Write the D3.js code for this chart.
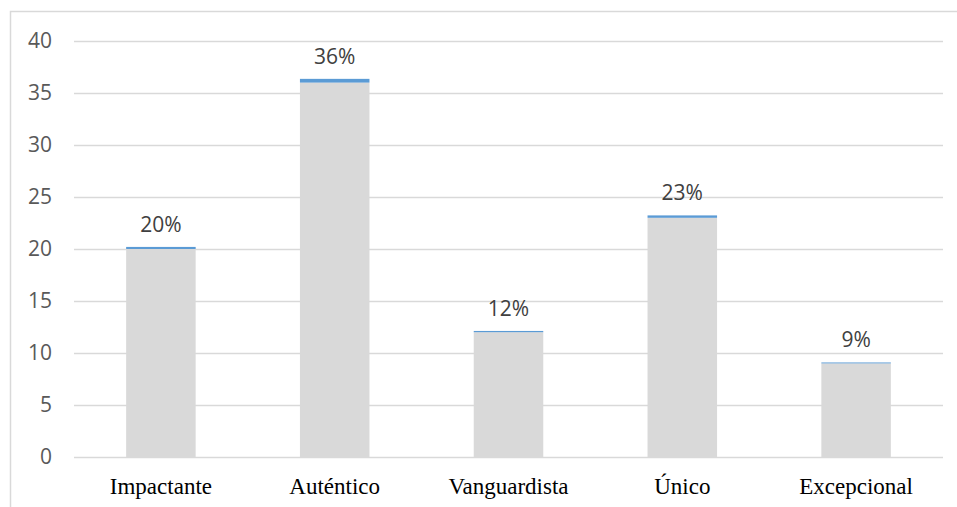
<!DOCTYPE html>
<html>
<head>
<meta charset="utf-8">
<script src="https://cdn.jsdelivr.net/npm/d3@7"></script>
<style>
  body { margin: 0; background: #fff; }
  svg { display: block; }
</style>
</head>
<body>
<div id="chart"></div>
<script>
var categories = ["Impactante", "Auténtico", "Vanguardista", "Único", "Excepcional"];
var counts = [20, 36, 12, 23, 9];
var shares = [0.20, 0.36, 0.12, 0.23, 0.09];
var yTicks = [0, 5, 10, 15, 20, 25, 30, 35, 40];

var W = 957, H = 507;
var margin = {left: 74, right: 14, top: 41, bottom: 50};

var svg = d3.select("#chart").append("svg")
  .attr("width", W)
  .attr("height", H);

// outer frame (only top and left edges are in view)
svg.append("path")
  .attr("d", "M10.5," + H + "V11.5H" + W)
  .attr("fill", "none")
  .attr("stroke", "#d9d9d9")
  .attr("stroke-width", 1.5);

var x = d3.scaleBand()
  .domain(categories)
  .range([margin.left, W - margin.right])
  .paddingInner(0.6)
  .paddingOuter(0.3);

var y = d3.scaleLinear()
  .domain([0, 40])
  .range([H - margin.bottom, margin.top]);

// gridlines
svg.append("g")
  .selectAll("line")
  .data(yTicks)
  .join("line")
  .attr("x1", margin.left)
  .attr("x2", W - margin.right)
  .attr("y1", function(d) { return Math.round(y(d)) + 0.5; })
  .attr("y2", function(d) { return Math.round(y(d)) + 0.5; })
  .attr("stroke", "#d9d9d9")
  .attr("stroke-width", 1.3);

// y tick labels
svg.append("g")
  .selectAll("text")
  .data(yTicks)
  .join("text")
  .attr("x", 52)
  .attr("y", function(d) { return y(d); })
  .attr("dy", "0.35em")
  .attr("text-anchor", "end")
  .attr("font-family", "'Open Sans', 'Noto Sans', sans-serif")
  .attr("font-size", 21)
  .attr("fill", "#595959")
  .text(function(d) { return d; });

// gray bars (counts)
svg.append("g")
  .selectAll("rect")
  .data(categories)
  .join("rect")
  .attr("x", function(d) { return x(d); })
  .attr("width", x.bandwidth())
  .attr("y", function(d, i) { return y(counts[i]); })
  .attr("height", function(d, i) { return y(0) - y(counts[i]); })
  .attr("fill", "#d9d9d9");

// blue caps (shares stacked on top)
svg.append("g")
  .selectAll("rect")
  .data(categories)
  .join("rect")
  .attr("x", function(d) { return x(d); })
  .attr("width", x.bandwidth())
  .attr("y", function(d, i) { return y(counts[i] + shares[i]); })
  .attr("height", function(d, i) { return y(counts[i]) - y(counts[i] + shares[i]); })
  .attr("fill", "#5b9bd5");

// data labels
var pct = d3.format(".0%");
svg.append("g")
  .selectAll("text")
  .data(categories)
  .join("text")
  .attr("x", function(d) { return x(d) + x.bandwidth() / 2; })
  .attr("y", function(d, i) { return y(counts[i] + shares[i]) - 15; })
  .attr("text-anchor", "middle")
  .attr("font-family", "'Open Sans', 'Noto Sans', sans-serif")
  .attr("font-size", 21)
  .attr("fill", "#404040")
  .text(function(d, i) { return pct(shares[i]); });

// category labels
svg.append("g")
  .selectAll("text")
  .data(categories)
  .join("text")
  .attr("x", function(d) { return x(d) + x.bandwidth() / 2; })
  .attr("y", 494)
  .attr("text-anchor", "middle")
  .attr("font-family", "'Liberation Serif', 'Times New Roman', serif")
  .attr("font-size", 23)
  .attr("fill", "#000")
  .text(function(d) { return d; });
</script>
</body>
</html>
